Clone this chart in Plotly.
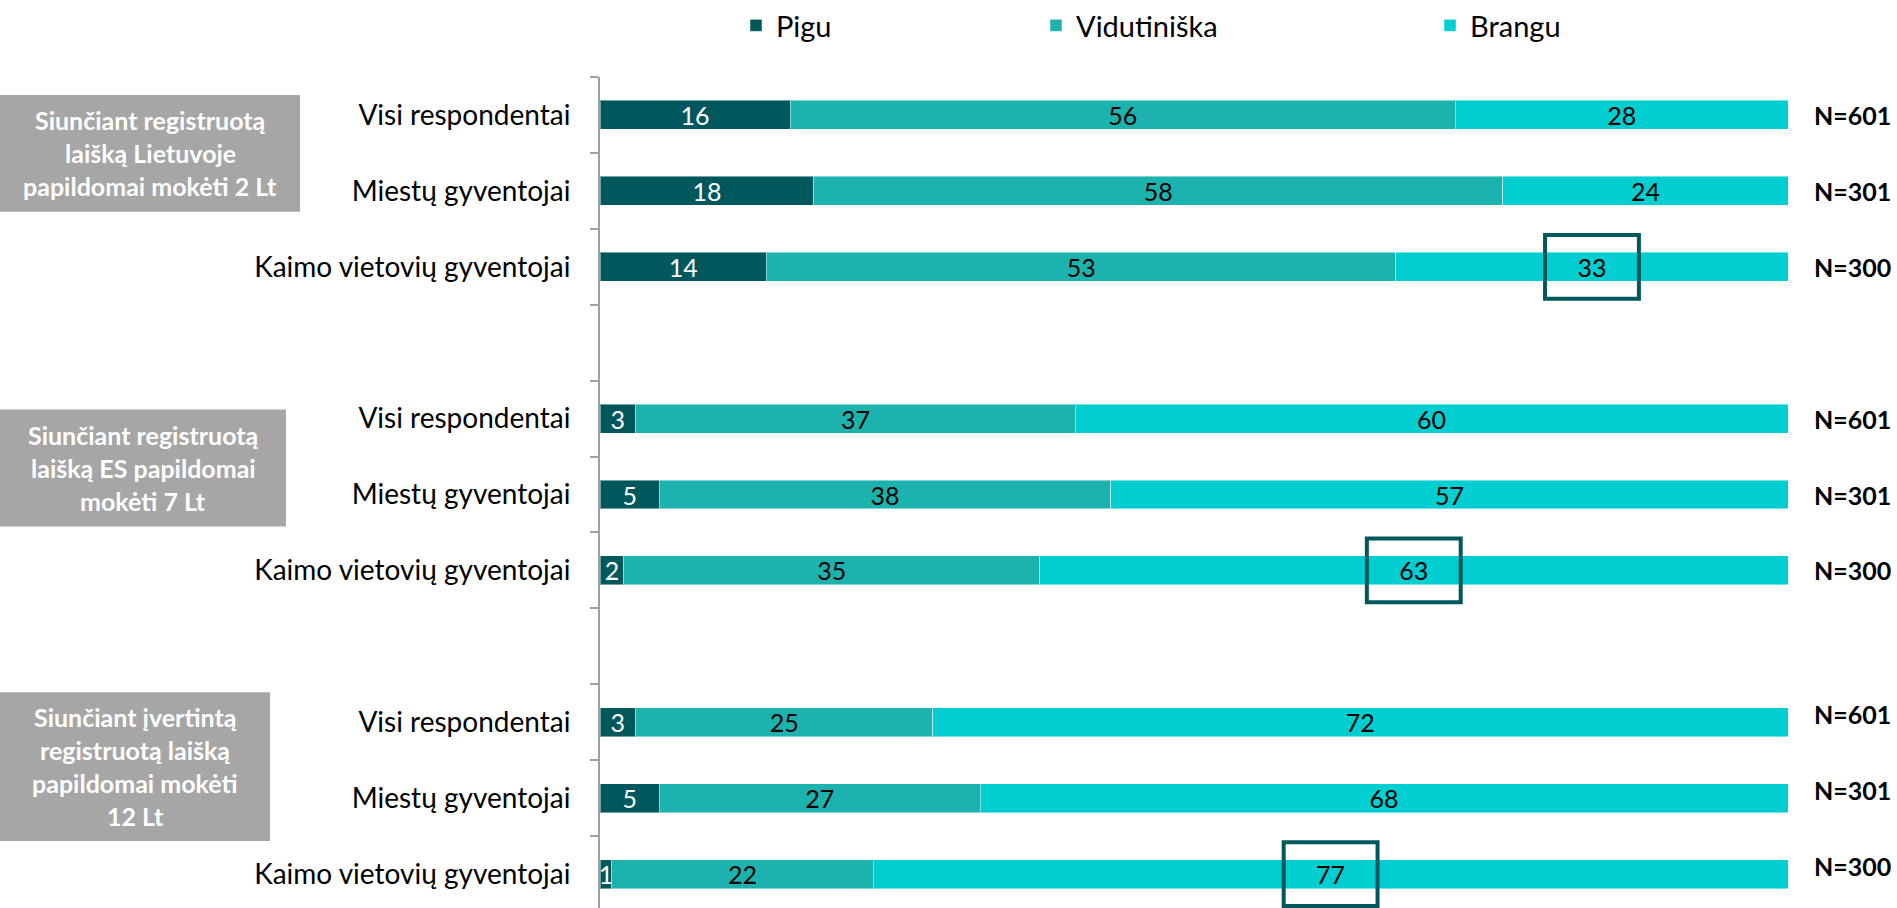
import plotly.graph_objects as go

# ---------------- data ----------------
groups = [
    "Siunčiant registruotą<br>laišką Lietuvoje<br>papildomai mokėti 2 Lt",
    "Siunčiant registruotą<br>laišką ES papildomai<br>mokėti 7 Lt",
    "Siunčiant įvertintą<br>registruotą laišką<br>papildomai mokėti<br>12 Lt",
]
rows = ["Visi respondentai", "Miestų gyventojai", "Kaimo vietovių gyventojai"]
series_names = ["Pigu", "Vidutiniška", "Brangu"]
pigu = [16, 18, 14, 3, 5, 2, 3, 5, 1]
vidutiniska = [56, 58, 53, 37, 38, 35, 25, 27, 22]
brangu = [28, 24, 33, 60, 57, 63, 72, 68, 77]
n_resp = [601, 301, 300, 601, 301, 300, 601, 301, 300]
highlight_row = "Kaimo vietovių gyventojai"

# ---------------- style / layout ----------------
W, H = 1897, 908
PLOT_L, PLOT_R, PLOT_T = 600, 1788, 76
SLOT = 76
FONT = "Lato, 'Open Sans', sans-serif"
colors = ["#00585C", "#1CB2AE", "#00CED1"]
text_colors = ["white", "black", "black"]
GRAY = "#A6A6A6"
plot_w = PLOT_R - PLOT_L
plot_h = H - PLOT_T


def px_to_paper_x(px):
    return (px - PLOT_L) / plot_w


def px_to_paper_y(py):
    return 1 - (py - PLOT_T) / plot_h


# categories (unique ids) incl. gap slots between groups
cats, ticktext = [], []
for gi in range(len(groups)):
    if gi:
        cats.append(f"gap{gi}")
        ticktext.append("")
    for r in rows:
        cats.append(f"{gi}|{r}")
        ticktext.append(r)
ycat = [f"{gi}|{r}" for gi in range(len(groups)) for r in rows]

fig = go.Figure()
legend_ids = ["legend", "legend2", "legend3"]
for k, (name, vals) in enumerate(zip(series_names, [pigu, vidutiniska, brangu])):
    fig.add_trace(go.Bar(
        y=ycat, x=vals, name=name, orientation="h",
        marker=dict(color=colors[k], line=dict(color="rgba(255,255,255,0.45)", width=1)),
        text=vals, texttemplate="%{x}", textposition="inside", textangle=0,
        insidetextanchor="middle", constraintext="none",
        textfont=dict(color=text_colors[k], size=25, family=FONT),
        legend=legend_ids[k], hoverinfo="skip",
    ))

shapes, annotations = [], []

# highlight boxes around "Brangu" of rural residents
for i, cid in enumerate(ycat):
    if cid.split("|")[1] == highlight_row:
        idx = cats.index(cid)
        mid = pigu[i] + vidutiniska[i] + brangu[i] / 2
        shapes.append(dict(type="rect", xref="x", yref="y",
                           x0=mid - 3.95, x1=mid + 3.95, y0=idx - 0.42, y1=idx + 0.42,
                           line=dict(color="#00585C", width=4), fillcolor="rgba(0,0,0,0)"))

# N labels
for i, cid in enumerate(ycat):
    gi = i // len(rows)
    annotations.append(dict(xref="paper", yref="y", x=px_to_paper_x(1812), y=cid,
                            xanchor="left", yanchor="middle", showarrow=False,
                            yshift=8 if gi == 2 else 0,
                            text=f"<b>N={n_resp[i]}</b>",
                            font=dict(family=FONT, size=25, color="black")))

# gray group boxes (pixel geometry: x-right, y-top, y-bottom)
box_geom = [(300, 94, 211), (286, 409, 526), (270, 692, 841)]
for g, (xr, yt, yb) in zip(groups, box_geom):
    shapes.append(dict(type="rect", xref="paper", yref="paper", layer="above",
                       x0=px_to_paper_x(0), x1=px_to_paper_x(xr),
                       y0=px_to_paper_y(yb), y1=px_to_paper_y(yt),
                       fillcolor=GRAY, line=dict(width=0)))
    lines = g.split("<br>")
    cy = (yt + yb) / 2
    for li, ln in enumerate(lines):
        ly = cy + (li - (len(lines) - 1) / 2) * 33
        annotations.append(dict(xref="paper", yref="paper", x=px_to_paper_x(xr / 2),
                                y=px_to_paper_y(ly), xanchor="center", yanchor="middle",
                                showarrow=False, text=f"<b>{ln}</b>",
                                font=dict(family=FONT, size=25, color="white")))

legend_text_px = [776, 1076, 1470]
legend_style = {}
for lid, tx in zip(legend_ids, legend_text_px):
    legend_style[lid] = dict(x=px_to_paper_x(tx - 40), y=px_to_paper_y(24),
                             xanchor="left", yanchor="middle", orientation="h",
                             bgcolor="rgba(0,0,0,0)",
                             font=dict(family=FONT, size=29, color="black"))

fig.update_layout(
    width=W, height=H,
    margin=dict(l=PLOT_L, r=W - PLOT_R, t=PLOT_T, b=0, pad=0),
    paper_bgcolor="white", plot_bgcolor="white",
    barmode="stack", bargap=1 - 29 / SLOT,
    uniformtext=dict(minsize=25, mode="show"),
    font=dict(family=FONT, color="black"),
    showlegend=True,
    xaxis=dict(range=[0, 100], visible=False, fixedrange=True),
    yaxis=dict(type="category", categoryorder="array", categoryarray=cats,
               tickmode="array", tickvals=cats, ticktext=ticktext,
               range=[-0.5 + plot_h / SLOT, -0.5],
               tickson="boundaries", ticks="outside", ticklen=8, tickwidth=2,
               tickcolor="#A0A0A0", showline=True, linecolor="#A0A0A0", linewidth=2,
               showgrid=False, zeroline=False, ticklabelstandoff=22,
               tickfont=dict(family=FONT, size=28, color="black"), fixedrange=True),
    shapes=shapes, annotations=annotations,
    **legend_style,
)

fig.write_html("out.html", config={"displayModeBar": False},
               post_script="document.body.style.margin='0px';")
